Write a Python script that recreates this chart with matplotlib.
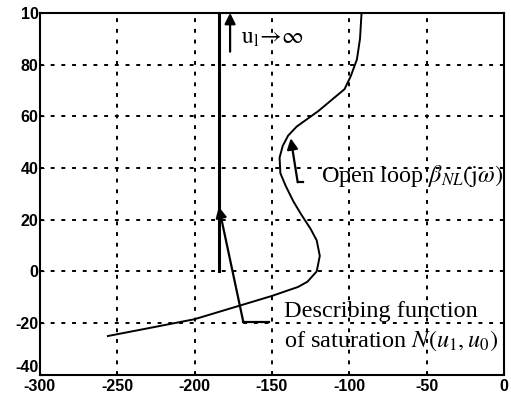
import matplotlib.pyplot as plt

# open loop curve
curve_x = [-256, -230, -200, -175, -150, -133, -127, -121, -119, -121, -125, -131, -136,
           -141, -144.5, -145, -143, -139.5, -134, -127, -120, -112, -103, -99, -95, -93, -92]
curve_y = [-25, -22, -18.5, -14, -9.5, -6, -4, 0, 6, 12, 16.5, 22, 27,
           33, 38, 44, 48.5, 52.5, 56, 59, 62, 66, 70.5, 75.5, 82, 90, 100]

# describing function (vertical line)
df_x = [-184, -184]
df_y = [0, 100]

xticks = [-300, -250, -200, -150, -100, -50, 0]
yticks = [-40, -20, 0, 20, 40, 60, 80, 100]
ytick_labels = ["-40", "-20", "0", "20", "40", "60", "80", "10"]

plt.rcParams['mathtext.fontset'] = 'stix'
plt.rcParams['axes.unicode_minus'] = False
serif = 'Liberation Serif'

fig = plt.figure(figsize=(5.11, 4.03), dpi=100)
ax = fig.add_axes([0.078, 0.07, 0.908, 0.898])

ax.plot(curve_x, curve_y, color='k', lw=1.4)
ax.plot(df_x, df_y, color='k', lw=2.2)

ax.set_xlim(-300, 0)
ax.set_ylim(-40, 100)
ax.set_xticks(xticks)
ax.set_yticks(yticks)
ax.set_yticklabels(ytick_labels)
for lab in ax.get_xticklabels() + ax.get_yticklabels():
    lab.set_fontfamily('Liberation Sans')
    lab.set_fontweight('bold')
    lab.set_fontsize(11.5)
ax.tick_params(direction='in', length=3, pad=1)
ax.tick_params(axis='x', pad=3)
ax.get_yticklabels()[0].set_va('bottom')
ax.grid(True, color='k', linestyle=(0, (2, 3.5)), lw=1.4)
for s in ax.spines.values():
    s.set_linewidth(1.5)

arrow = dict(arrowstyle='-|>', color='k', lw=1.6, mutation_scale=16, shrinkA=0, shrinkB=0)

# u1 -> inf arrow
ax.annotate('', xy=(-177, 100), xytext=(-177, 85), arrowprops=arrow)
ax.text(-170, 90.5, r'$\mathrm{u}_{\mathrm{l}}\!\rightarrow\!\infty$', fontsize=17,
        va='center', ha='left')

# describing function pointer
ax.plot([-152, -168.5], [-19.4, -19.4], color='k', lw=1.6)
ax.annotate('', xy=(-184.3, 25), xytext=(-168.5, -19.4), arrowprops=arrow)
ax.text(-142, -15.5, 'Describing function', fontsize=17.5, family=serif, va='center')
ax.text(-142, -27, r'of saturation $N(u_1,u_0)$', fontsize=17.5, family=serif, va='center')

# open loop pointer
ax.plot([-130, -133.3], [34.5, 34.5], color='k', lw=1.6)
ax.annotate('', xy=(-137.8, 51.5), xytext=(-133.3, 34.5), arrowprops=arrow)
ax.text(-118.5, 37, r'Open loop $\beta_{NL}(\mathrm{j}\omega)$', fontsize=17.5, family=serif,
        va='center')

fig.savefig('out.png', dpi=100)
